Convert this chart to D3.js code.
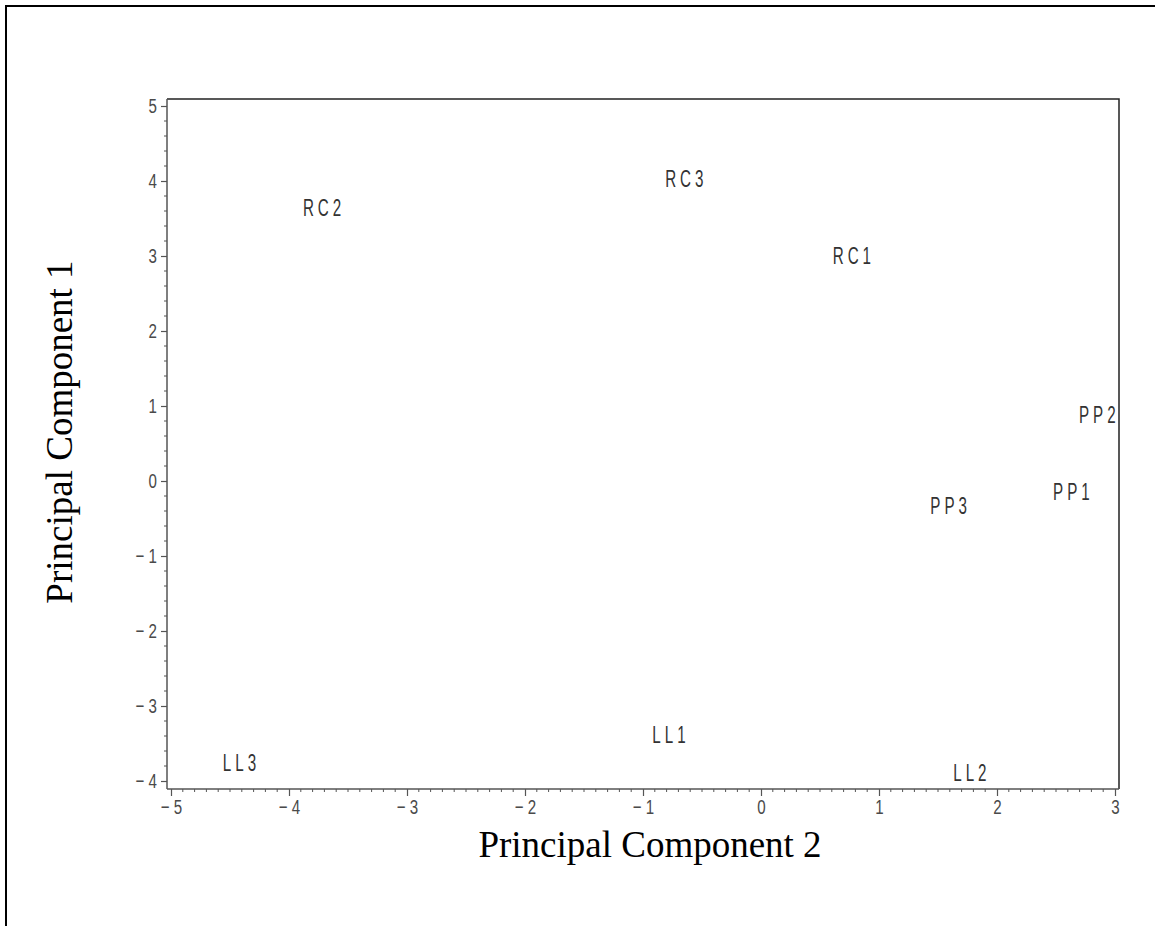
<!DOCTYPE html>
<html>
<head>
<meta charset="utf-8">
<script src="https://cdn.jsdelivr.net/npm/d3@7"></script>
<style>
  html, body { margin: 0; padding: 0; background: #fff; }
  svg { display: block; }
</style>
</head>
<body>
<svg id="chart" width="1155" height="926"></svg>
<script>
// ---- data ----
const labels = ["RC1", "RC2", "RC3", "PP1", "PP2", "PP3", "LL1", "LL2", "LL3"];
const pc2 = [0.77, -3.72, -0.65, 2.63, 2.85, 1.59, -0.78, 1.77, -4.42];
const pc1 = [3.01, 3.64, 4.03, -0.14, 0.89, -0.33, -3.38, -3.89, -3.76];
const xTicks = [-5, -4, -3, -2, -1, 0, 1, 2, 3];
const yTicks = [-4, -3, -2, -1, 0, 1, 2, 3, 4, 5];
const xTitle = "Principal Component 2";
const yTitle = "Principal Component 1";

const svg = d3.select("#chart");

// outer border (extends beyond the viewport to right/bottom)
svg.append("rect")
  .attr("x", 6).attr("y", 6)
  .attr("width", 1300).attr("height", 1100)
  .attr("fill", "none").attr("stroke", "#000").attr("stroke-width", 2);

const x = d3.scaleLinear().domain([-5, 3]).range([171, 1115]);
const y = d3.scaleLinear().domain([-4, 5]).range([781, 106]);
const frame = { left: 167, right: 1119, top: 99, bottom: 789 };

// frame top and right
svg.append("path")
  .attr("d", `M${frame.left},${frame.top}H${frame.right}V${frame.bottom}`)
  .attr("fill", "none").attr("stroke", "#222").attr("stroke-width", 1.5);

const tickFont = "Liberation Sans, Arial, sans-serif";
const tsx = 0.72;  // tick label horizontal condense
const lsx = 0.66;  // data label horizontal condense
const fmt = d => d < 0 ? "\u2212 " + Math.abs(d) : String(d);

// minor ticks
const xMinor = d3.range(-50, 31).filter(v => v % 10 !== 0).map(v => v / 10);
const yMinor = d3.range(-20, 26).filter(v => v % 5 !== 0).map(v => v / 5);

// x axis
const gx = svg.append("g").attr("transform", `translate(0,${frame.bottom})`);
gx.append("line").attr("x1", frame.left).attr("x2", frame.right)
  .attr("stroke", "#555").attr("stroke-width", 1.5);
gx.selectAll(".xm").data(xMinor).join("line")
  .attr("x1", d => x(d)).attr("x2", d => x(d)).attr("y1", 0).attr("y2", 3)
  .attr("stroke", "#555").attr("stroke-width", 1);
const xAxis = d3.axisBottom(x).tickValues(xTicks).tickSize(7).tickSizeOuter(0).tickFormat(fmt);
const gxa = gx.append("g").call(xAxis);
gxa.select(".domain").remove();
gxa.selectAll(".tick line").attr("stroke", "#555").attr("stroke-width", 1.2);
gxa.selectAll(".tick text")
  .attr("font-family", tickFont).attr("font-size", 21)
  .attr("fill", "#4a4a4a").attr("y", 10)
  .attr("transform", `scale(${tsx},1)`);

// y axis
const gy = svg.append("g").attr("transform", `translate(${frame.left},0)`);
gy.append("line").attr("y1", frame.top).attr("y2", frame.bottom)
  .attr("stroke", "#555").attr("stroke-width", 1.5);
gy.selectAll(".ym").data(yMinor).join("line")
  .attr("y1", d => y(d)).attr("y2", d => y(d)).attr("x1", 0).attr("x2", -3)
  .attr("stroke", "#555").attr("stroke-width", 1);
const yAxis = d3.axisLeft(y).tickValues(yTicks).tickSize(6).tickSizeOuter(0).tickFormat(fmt);
const gya = gy.append("g").call(yAxis);
gya.select(".domain").remove();
gya.selectAll(".tick line").attr("stroke", "#555").attr("stroke-width", 1.2);
gya.selectAll(".tick text")
  .attr("font-family", tickFont).attr("font-size", 21)
  .attr("fill", "#4a4a4a").attr("x", -10 / tsx)
  .attr("transform", `scale(${tsx},1)`);

// data labels
const pts = labels.map((l, i) => ({ label: l, px: pc2[i], py: pc1[i] }));
svg.append("g").selectAll("text").data(pts).join("text")
  .attr("transform", d => `translate(${x(d.px) + 2},${y(d.py)}) scale(${lsx},1)`)
  .attr("text-anchor", "middle")
  .attr("dy", "0.36em")
  .attr("font-family", tickFont)
  .attr("font-size", 23)
  .attr("letter-spacing", 6)
  .attr("fill", "#333")
  .text(d => d.label);

// titles
svg.append("text")
  .attr("x", 650).attr("y", 857)
  .attr("text-anchor", "middle")
  .attr("font-family", "Liberation Serif, Times New Roman, serif")
  .attr("font-size", 37)
  .attr("fill", "#000")
  .text(xTitle);

svg.append("text")
  .attr("transform", `translate(72,432) rotate(-90)`)
  .attr("text-anchor", "middle")
  .attr("font-family", "Liberation Serif, Times New Roman, serif")
  .attr("font-size", 37)
  .attr("fill", "#000")
  .text(yTitle);
</script>
</body>
</html>
